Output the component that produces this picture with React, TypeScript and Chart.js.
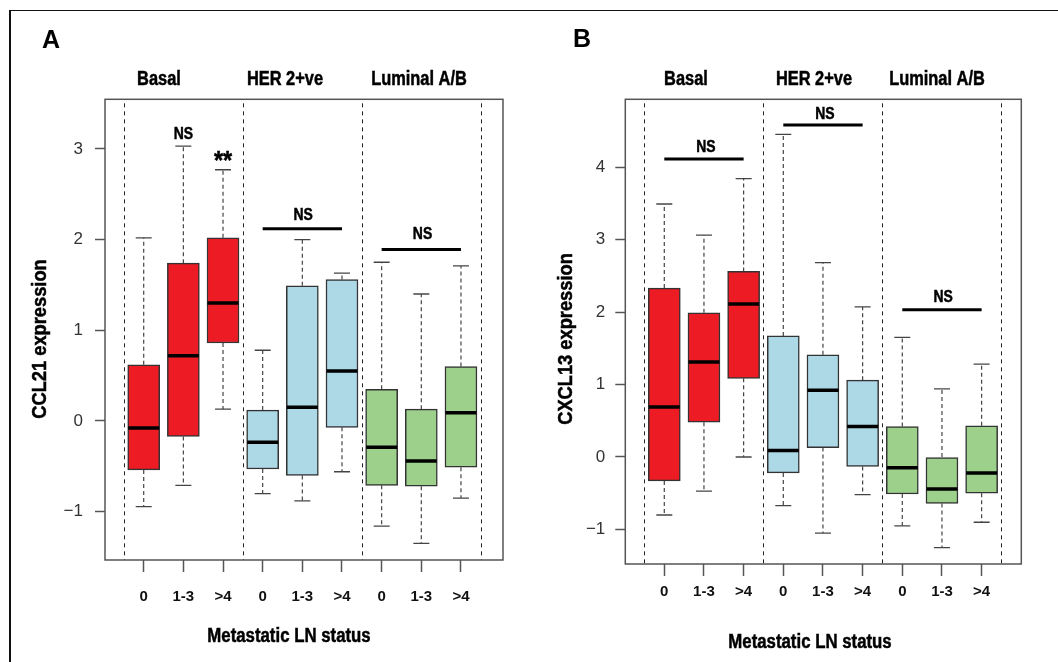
import React, { useEffect, useRef } from 'react';
import { Chart, registerables } from 'chart.js';

Chart.register(...registerables);

// ---------- data ----------
const positions = [1, 2, 3, 4, 5, 6, 7, 8, 9];
const xLabels = ['0', '1-3', '>4', '0', '1-3', '>4', '0', '1-3', '>4'];
const groupNames = ['Basal', 'HER 2+ve', 'Luminal A/B'];
const groupBounds = [0.5, 3.5, 6.5, 9.5];
const boxColors = [
  '#ed1c24', '#ed1c24', '#ed1c24',
  '#add8e6', '#add8e6', '#add8e6',
  '#9dd08b', '#9dd08b', '#9dd08b',
];

// Panel A – CCL21
const ccl21Min = [-0.945, -0.71, 0.13, -0.8, -0.88, -0.56, -1.16, -1.35, -0.85];
const ccl21Q1 = [-0.54, -0.17, 0.86, -0.53, -0.6, -0.07, -0.71, -0.72, -0.51];
const ccl21Median = [-0.077, 0.72, 1.3, -0.235, 0.15, 0.55, -0.29, -0.44, 0.09];
const ccl21Q3 = [0.62, 1.74, 2.02, 0.12, 1.49, 1.56, 0.35, 0.13, 0.6];
const ccl21Max = [2.02, 3.03, 2.77, 0.78, 2.0, 1.63, 1.75, 1.4, 1.71];
const ccl21Ticks = [-1, 0, 1, 2, 3];
const ccl21Bars = [
  { from: 4, to: 6, y: 2.12 },
  { from: 7, to: 9, y: 1.89 },
];
const ccl21Notes = [
  { x: 2, y: 3.16, text: 'NS' },
  { x: 3, y: 2.86, text: '**' },
  { x: 5.02, y: 2.27, text: 'NS' },
  { x: 8.03, y: 2.06, text: 'NS' },
];

// Panel B – CXCL13
const cxcl13Min = [-0.8, -0.47, 0.0, -0.67, -1.05, -0.52, -0.95, -1.25, -0.9];
const cxcl13Q1 = [-0.33, 0.48, 1.085, -0.22, 0.13, -0.13, -0.51, -0.64, -0.5];
const cxcl13Median = [0.69, 1.31, 2.11, 0.09, 0.92, 0.42, -0.15, -0.44, -0.22];
const cxcl13Q3 = [2.33, 1.99, 2.56, 1.67, 1.41, 1.06, 0.42, 0.0, 0.43];
const cxcl13Max = [3.49, 3.06, 3.84, 4.45, 2.68, 2.07, 1.65, 0.94, 1.28];
const cxcl13Ticks = [-1, 0, 1, 2, 3, 4];
const cxcl13Bars = [
  { from: 1, to: 3, y: 4.11 },
  { from: 4, to: 6, y: 4.58 },
  { from: 7, to: 9, y: 2.03 },
];
const cxcl13Notes = [
  { x: 2.05, y: 4.27, text: 'NS' },
  { x: 5.05, y: 4.73, text: 'NS' },
  { x: 8.03, y: 2.2, text: 'NS' },
];

// ---------- styling / layout ----------
const SANS = '"Liberation Sans", Arial, Helvetica, sans-serif';

const panels = [
  {
    key: 'A', left: 0, letter: 'A', letterPos: [51, 41],
    yTitle: 'CCL21 expression', yTitlePos: [40, 339],
    xTitlePos: [289, 636],
    groupTitlePos: [159, 285, 419],
    min: ccl21Min, q1: ccl21Q1, med: ccl21Median, q3: ccl21Q3, max: ccl21Max,
    yTicks: ccl21Ticks, bars: ccl21Bars, notes: ccl21Notes,
    yMin: -1.533, yMax: 3.547, xMin: 0.024, xMax: 10.06,
    padTop: 99.3, padRight: 26, yAxisWidth: 105, xAxisHeight: 102,
    yTickPad: 12, xTickPad: 16,
  },
  {
    key: 'B', left: 529, letter: 'B', letterPos: [53, 40],
    yTitle: 'CXCL13 expression', yTitlePos: [37, 339],
    xTitlePos: [281, 642],
    groupTitlePos: [157, 285, 408],
    min: cxcl13Min, q1: cxcl13Q1, med: cxcl13Median, q3: cxcl13Q3, max: cxcl13Max,
    yTicks: cxcl13Ticks, bars: cxcl13Bars, notes: cxcl13Notes,
    yMin: -1.476, yMax: 4.934, xMin: 0.017, xMax: 10.0,
    padTop: 99.3, padRight: 36.7, yAxisWidth: 96.3, xAxisHeight: 98,
    yTickPad: 10, xTickPad: 7,
  },
];

const fmtTick = (v: number) => (v < 0 ? '\u2212' + Math.abs(v) : String(v));

// draw bold text horizontally compressed (emulates a narrow/condensed face)
function narrowText(ctx: CanvasRenderingContext2D, text: string, x: number, y: number, size: number, squeeze: number, rotate = 0) {
  ctx.save();
  ctx.translate(x, y);
  if (rotate) ctx.rotate(rotate);
  ctx.scale(squeeze, 1);
  ctx.font = `bold ${size}px ${SANS}`;
  ctx.textAlign = 'center';
  ctx.textBaseline = 'middle';
  ctx.fillStyle = '#000';
  ctx.strokeStyle = '#000';
  ctx.lineWidth = 0.5;
  ctx.fillText(text, 0, 0);
  ctx.strokeText(text, 0, 0);
  ctx.restore();
}

function BoxPanel({ p }: { p: any }) {
  const ref = useRef<HTMLCanvasElement | null>(null);

  useEffect(() => {
    if (!ref.current) return;

    const boxData = positions.map((x, i) => ({ x, y: [p.q1[i], p.q3[i]] }));
    const medData = positions.map((x, i) => ({ x, y: p.med[i] }));
    const capData = positions.flatMap((x, i) => [
      { x, y: p.max[i] },
      { x, y: p.min[i] },
    ]);
    const whiskerData = positions.flatMap((x, i) => [
      { x, y: p.q3[i] },
      { x, y: p.max[i] },
      { x, y: null },
      { x, y: p.q1[i] },
      { x, y: p.min[i] },
      { x, y: null },
    ]);

    const separators = {
      id: 'separators',
      beforeDatasetsDraw(chart: any) {
        const { ctx, chartArea, scales } = chart;
        ctx.save();
        ctx.strokeStyle = '#222';
        ctx.lineWidth = 1;
        ctx.setLineDash([4, 4]);
        groupBounds.forEach((b) => {
          const x = Math.round(scales.x.getPixelForValue(b)) + 0.5;
          ctx.beginPath();
          ctx.moveTo(x, chartArea.top + 4);
          ctx.lineTo(x, chartArea.bottom);
          ctx.stroke();
        });
        ctx.restore();
      },
    };

    const decorations = {
      id: 'decorations',
      afterDraw(chart: any) {
        const { ctx, chartArea, scales } = chart;
        const xs = scales.x;
        const ys = scales.y;
        ctx.save();
        // plot frame
        ctx.strokeStyle = '#555';
        ctx.lineWidth = 1.5;
        ctx.strokeRect(chartArea.left, chartArea.top, chartArea.right - chartArea.left, chartArea.bottom - chartArea.top);

        // significance bars
        ctx.strokeStyle = '#000';
        ctx.lineWidth = 3;
        p.bars.forEach((b: any) => {
          const y = ys.getPixelForValue(b.y);
          ctx.beginPath();
          ctx.moveTo(xs.getPixelForValue(b.from), y);
          ctx.lineTo(xs.getPixelForValue(b.to), y);
          ctx.stroke();
        });

        p.notes.forEach((n: any) => {
          const isStar = n.text.indexOf('*') >= 0;
          narrowText(ctx, n.text, xs.getPixelForValue(n.x), ys.getPixelForValue(n.y), isStar ? 26 : 17, isStar ? 0.9 : 0.82);
        });

        // panel letter
        ctx.fillStyle = '#000';
        ctx.font = `bold 25px ${SANS}`;
        ctx.textAlign = 'center';
        ctx.textBaseline = 'middle';
        ctx.fillText(p.letter, p.letterPos[0], p.letterPos[1]);

        // group titles
        groupNames.forEach((g, i) => {
          narrowText(ctx, g, p.groupTitlePos[i], 79, 20, 0.82);
        });

        // axis titles
        narrowText(ctx, 'Metastatic LN status', p.xTitlePos[0], p.xTitlePos[1], 20, 0.84);
        narrowText(ctx, p.yTitle, p.yTitlePos[0], p.yTitlePos[1], 21, 0.87, -Math.PI / 2);

        ctx.restore();
      },
    };

    const chart = new Chart(ref.current, {
      type: 'bar',
      data: {
        datasets: [
          {
            type: 'scatter',
            label: 'median',
            data: medData,
            pointStyle: 'line',
            pointRadius: 15.5,
            pointHoverRadius: 15.5,
            pointBorderWidth: 3.5,
            pointBorderColor: '#000',
            pointBackgroundColor: '#000',
            order: 0,
          } as any,
          {
            type: 'bar',
            label: 'box',
            data: boxData,
            backgroundColor: boxColors,
            borderColor: '#333',
            borderWidth: 1.5,
            borderSkipped: false,
            barThickness: 32,
            order: 1,
          } as any,
          {
            type: 'line',
            label: 'whisker',
            data: whiskerData,
            borderColor: '#444',
            borderWidth: 1.2,
            borderDash: [4, 3],
            pointRadius: 0,
            spanGaps: false,
            fill: false,
            order: 2,
          } as any,
          {
            type: 'scatter',
            label: 'cap',
            data: capData,
            pointStyle: 'line',
            pointRadius: 8,
            pointHoverRadius: 8,
            pointBorderWidth: 1.3,
            pointBorderColor: '#444',
            order: 2,
          } as any,
        ],
      },
      options: {
        responsive: false,
        animation: false,
        events: [],
        layout: { padding: { left: 0, top: p.padTop, right: p.padRight, bottom: 0 } },
        plugins: { legend: { display: false }, tooltip: { enabled: false } },
        scales: {
          x: {
            type: 'linear',
            min: p.xMin,
            max: p.xMax,
            bounds: 'data',
            offset: false,
            afterBuildTicks: (s: any) => {
              s.ticks = positions.map((v) => ({ value: v }));
            },
            afterFit: (s: any) => {
              s.height = p.xAxisHeight;
            },
            ticks: {
              autoSkip: false,
              maxRotation: 0,
              padding: p.xTickPad,
              color: '#111',
              font: { family: SANS, size: 15, weight: 'bold' },
              callback: (_v: any, i: number) => xLabels[i],
            },
            grid: {
              drawOnChartArea: false,
              drawTicks: true,
              tickLength: 12,
              tickColor: '#555',
              tickWidth: 1.5,
              offset: false,
            },
            border: { display: false },
          },
          y: {
            type: 'linear',
            min: p.yMin,
            max: p.yMax,
            bounds: 'data',
            afterBuildTicks: (s: any) => {
              s.ticks = p.yTicks.map((v: number) => ({ value: v }));
            },
            afterFit: (s: any) => {
              s.width = p.yAxisWidth;
            },
            ticks: {
              padding: p.yTickPad,
              color: '#333',
              font: { family: SANS, size: 17 },
              callback: (v: any) => fmtTick(Number(v)),
            },
            grid: {
              drawOnChartArea: false,
              drawTicks: true,
              tickLength: 10,
              tickColor: '#555',
              tickWidth: 1.5,
            },
            border: { display: false },
          },
        },
      } as any,
      plugins: [separators, decorations],
    });

    return () => chart.destroy();
  }, [p]);

  return (
    <canvas
      ref={ref}
      width={529}
      height={662}
      style={{ position: 'absolute', left: p.left, top: 0, width: 529, height: 662 }}
    />
  );
}

export default function App() {
  return (
    <div
      style={{
        position: 'absolute',
        left: 0,
        top: 0,
        width: 1058,
        height: 662,
        background: '#fff',
        overflow: 'hidden',
      }}
    >
      <div
        style={{
          position: 'absolute',
          left: 9,
          top: 10,
          width: 1060,
          height: 660,
          borderLeft: '2px solid #111',
          borderTop: '1px solid #111',
          boxSizing: 'border-box',
        }}
      />
      {panels.map((p) => (
        <BoxPanel key={p.key} p={p} />
      ))}
    </div>
  );
}
